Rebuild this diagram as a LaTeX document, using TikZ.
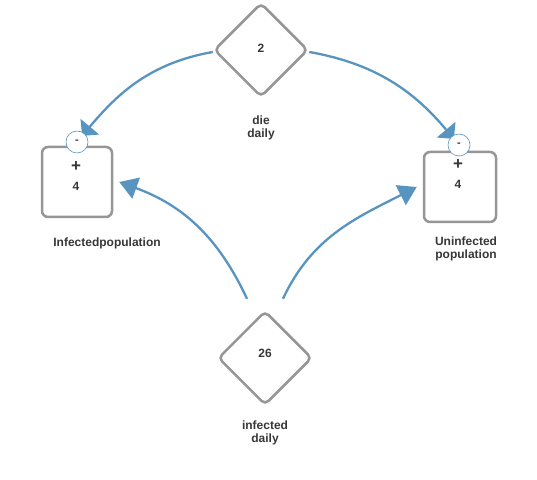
\documentclass[tikz,border=0pt]{standalone}
\usepackage{fontspec}
\setmainfont{Liberation Sans}
\usetikzlibrary{shapes.geometric,arrows.meta}
\definecolor{flowblue}{RGB}{88,148,192}
\definecolor{rimgray}{RGB}{150,150,150}
\definecolor{txtgray}{RGB}{55,55,55}
\tikzset{
  rate/.style={diamond,draw=rimgray,line width=2.5pt,rounded corners=5pt,fill=white,
    minimum width=94pt,minimum height=94pt,inner sep=0pt,aspect=1},
  stock/.style={rectangle,draw=rimgray,line width=2.5pt,rounded corners=6pt,fill=white,
    minimum width=70pt,minimum height=70pt},
  sign/.style={circle,draw=flowblue,fill=white,line width=0.6pt,minimum size=22pt,inner sep=0pt,
    text=txtgray,font=\bfseries\fontsize{11}{11}\selectfont},
  lbl/.style={text=txtgray,font=\bfseries\fontsize{12}{13}\selectfont,align=center},
  plus/.style={lbl,font=\bfseries\fontsize{17}{17}\selectfont},
  flow/.style={draw=flowblue,line width=2.3pt},
  smalltip/.style={-{Triangle[length=12pt,width=24pt]},shorten >=8pt},
  bigtip/.style={-{Triangle[length=18pt,width=22pt]}}
}
\begin{document}
\begin{tikzpicture}[x=1pt,y=1pt]
        \useasboundingbox (0,0) rectangle (537,479);
        % rates
        \node[rate] (die) at (261,429){};
        \node[lbl] (dieval) at (261,431){2};
        \node[lbl] (dielbl) at (261,351){die\\daily};
        \node[rate] (inf) at (265,121){};
        \node[lbl] (infval) at (265,126){26};
        \node[lbl] (inflbl) at (265,46){infected\\daily};
        % stocks
        \node[stock] (lbox) at (77,297){};
        \node[plus] (lplus) at (76,312){+};
        \node[lbl] (lval) at (76,293){4};
        \node[lbl] (llbl) at (107,236){Infectedpopulation};
        \node[stock,minimum width=72pt] (rbox) at (460,292){};
        \node[plus] (rplus) at (458,314){+};
        \node[lbl] (rval) at (458,295){4};
        \node[lbl] (rlbl) at (466,230){Uninfected\\population};
        % flows
        \coordinate (lsign) at (77,337);
        \coordinate (rsign) at (459,334);
        \draw[flow,smalltip] ([yshift=-2pt]die.west) to[out=190,in=50] (lsign);
        \draw[flow,smalltip] ([yshift=-2pt]die.east) to[out=-10,in=130] (rsign);
        \draw[flow,bigtip] ([xshift=-18pt,yshift=11pt]inf.north) to[out=115,in=-20] ([xshift=6pt]lbox.east);
        \draw[flow,bigtip] ([xshift=18pt,yshift=11pt]inf.north) to[out=65,in=207] ([xshift=-6pt]rbox.west);
        % signs
        \node[sign] (lminus) at (lsign){-};
        \node[sign] (rminus) at (rsign){-};
    \end{tikzpicture}
\end{document}
